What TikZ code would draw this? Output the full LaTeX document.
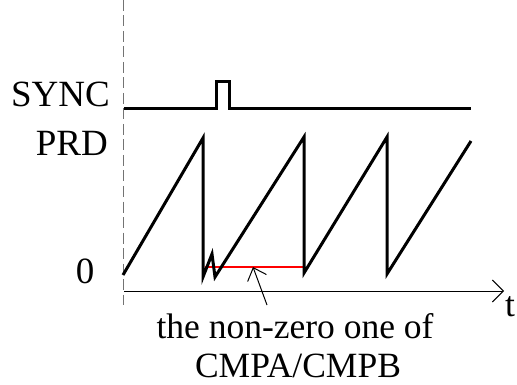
\documentclass[tikz,border=0pt]{standalone}
\usepackage{fontspec}
\setmainfont{Liberation Serif}
\usetikzlibrary{arrows.meta}
\begin{document}
\begin{tikzpicture}[x=1pt,y=-1pt,
  lbl/.style={inner sep=0pt,font=\fontsize{37}{41}\selectfont},
  captxt/.style={inner sep=0pt,font=\fontsize{35.5}{39}\selectfont},
  wave/.style={line width=3pt,line join=miter},
  thinline/.style={line width=1pt}]
\useasboundingbox (0,0) rectangle (517,385);
% dashed reference line
\draw[black!55,line width=1.6pt,dash pattern=on 11pt off 4.5pt] (123.5,0) -- (123.5,305);
% labels
\node[lbl,anchor=base east] (sync) at (110,107) {SYNC};
\node[lbl,anchor=base east] (prd) at (108,156) {PRD};
\node[lbl,anchor=base] (zero) at (85,283) {0};
\node[captxt,anchor=base west] (t) at (505,316) {t};
\node[captxt,anchor=base] (cap1) at (295,338) {the non-zero one of};
\node[captxt,anchor=base] (cap2) at (298,377) {CMPA/CMPB};
% sync signal
\draw[wave] (124,109) -- (216,109) -- (216,82) -- (229,82) -- (229,109) -- (471,109);
% time axis
\draw[thinline,-{Straight Barb[length=11pt,width=22pt,line width=1pt]}] (124,291) -- (504,291);
% compare level
\draw[red,line width=1.5pt] (205,267) -- (303,267);
% counter sawtooth
\draw[wave] (123,275) -- (203,138) -- (203,277) -- (212,254) -- (215,277)
  -- (304,137) -- (304,273) -- (387,137) -- (387,274) -- (471,141);
% pointer
\coordinate (ptail) at (267,305);
\coordinate (ptip) at (253,267);
\draw[thinline,-{Straight Barb[length=11pt,width=20pt,line width=1pt]}] (ptail) -- (ptip);
\end{tikzpicture}
\end{document}
